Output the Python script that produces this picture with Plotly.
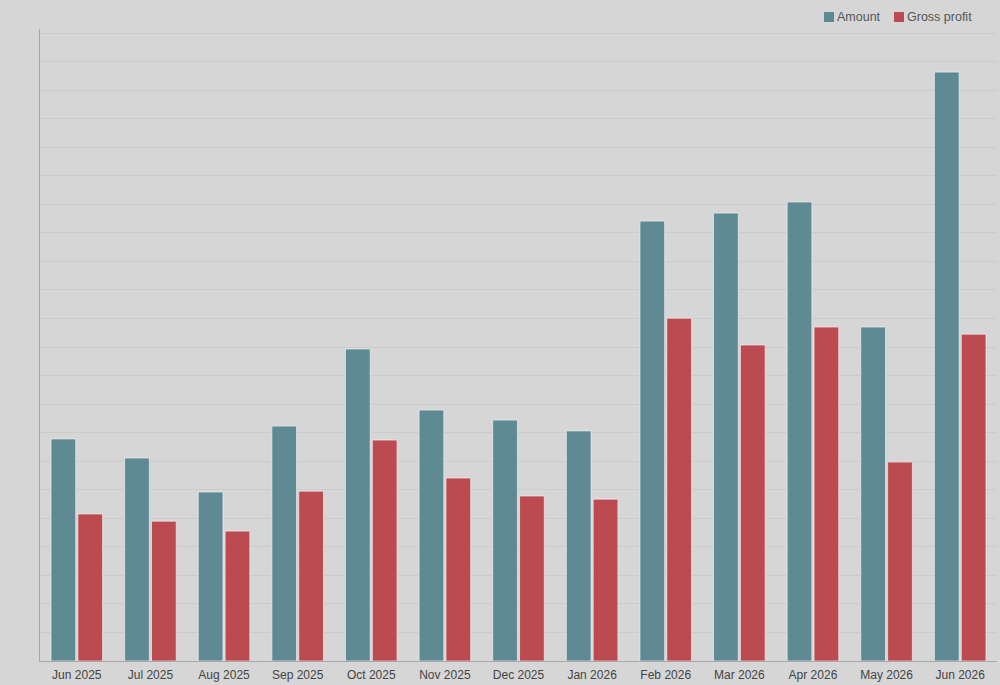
import plotly.graph_objects as go

months = ["Jun 2025", "Jul 2025", "Aug 2025", "Sep 2025", "Oct 2025", "Nov 2025",
          "Dec 2025", "Jan 2026", "Feb 2026", "Mar 2026", "Apr 2026", "May 2026", "Jun 2026"]
amount = [7780, 7110, 5920, 8230, 10930, 8790, 8440, 8060, 15410, 15690, 16080, 11700, 20630]
gross_profit = [5150, 4900, 4550, 5950, 7740, 6410, 5780, 5670, 12010, 11070, 11700, 6970, 11450]

series_names = ["Amount", "Gross profit"]
series_colors = ["#5f8a94", "#bc4b51"]

fig = go.Figure()
fig.add_trace(go.Bar(name=series_names[0], x=months, y=amount, showlegend=False,
                     marker=dict(color=series_colors[0], line=dict(color="rgba(235,240,240,0.7)", width=1))))
fig.add_trace(go.Bar(name=series_names[1], x=months, y=gross_profit, showlegend=False,
                     marker=dict(color=series_colors[1], line=dict(color="rgba(240,235,235,0.7)", width=1))))

# Custom compact legend (paper coordinates)
L, R, T, B = 40, 3, 29, 24
W, H = 1000 - L - R, 685 - T - B
def px(x):
    return (x - L) / W
def py(y):
    return 1 + (T - y) / H

legend_items = [(824, series_names[0], series_colors[0]), (894, series_names[1], series_colors[1])]
shapes = []
annotations = []
for x0, name, col in legend_items:
    shapes.append(dict(type="rect", xref="paper", yref="paper",
                       x0=px(x0), x1=px(x0 + 10), y0=py(22), y1=py(12),
                       fillcolor=col, line=dict(width=0)))
    annotations.append(dict(xref="paper", yref="paper", x=px(x0 + 12), y=py(17),
                            xanchor="left", yanchor="middle", showarrow=False, borderpad=0,
                            text=name, font=dict(size=12.5, color="#555555")))

fig.update_layout(
    width=1000, height=685,
    margin=dict(l=L, r=R, t=T, b=B),
    paper_bgcolor="#d6d6d6", plot_bgcolor="#d6d6d6",
    barmode="group", bargap=0.27, bargroupgap=0.08,
    font=dict(family="Liberation Sans, Arial, sans-serif", size=12, color="#444444"),
    showlegend=False,
    shapes=shapes, annotations=annotations,
)
fig.update_xaxes(showline=True, linecolor="#a8a8a8", linewidth=1, ticks="",
                 ticklabelstandoff=3,
                 tickfont=dict(size=12, color="#444444"), showgrid=False)
fig.update_yaxes(range=[0, 22140], dtick=1000, showticklabels=False, showgrid=True,
                 gridcolor="#cbcbcb", gridwidth=1, zeroline=False,
                 showline=True, linecolor="#a8a8a8", linewidth=1)

fig.write_html("out.html")
